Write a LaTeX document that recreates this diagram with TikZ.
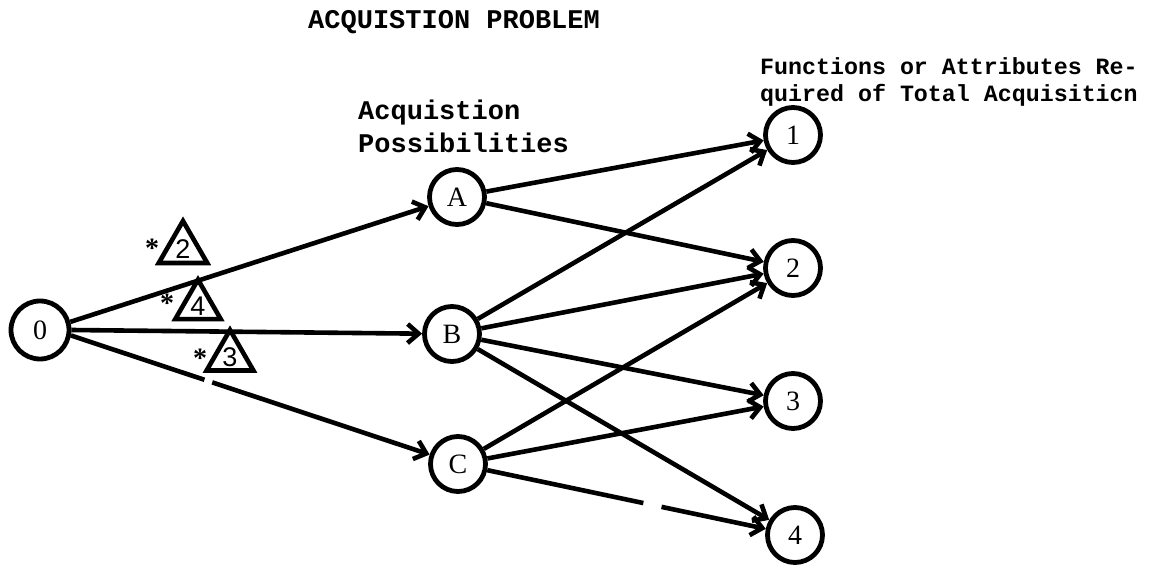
\documentclass[tikz,border=0pt]{standalone}
\usepackage{fontspec}
\setmainfont{Liberation Serif}
\newfontfamily\tw{Liberation Mono}
\newfontfamily\sansf{Liberation Sans}
\usetikzlibrary{arrows.meta,shapes.geometric,calc}
\begin{document}
\begin{tikzpicture}[x=1pt,y=-1pt,
  vert/.style={circle,draw,line width=4.8pt,minimum size=55pt,inner sep=0pt,font=\fontsize{28}{28}\selectfont},
  plain/.style={line width=4.6pt},
  arc/.style={line width=4.6pt,-{Straight Barb[length=11pt,width=19pt]}},
  tri/.style={regular polygon,regular polygon sides=3,draw,line width=4.6pt,inner sep=0pt,font=\sansf\fontsize{27}{27}\selectfont},
  star/.style={font=\bfseries\fontsize{28}{28}\selectfont,inner sep=0pt},
  bigtxt/.style={anchor=base west,inner sep=0pt,font=\tw\bfseries\fontsize{27}{30}\selectfont},
  smalltxt/.style={anchor=base west,inner sep=0pt,font=\tw\bfseries\fontsize{23.3}{26}\selectfont}
]
\useasboundingbox (0,0) rectangle (1151,569);
% titles
\node[bigtxt] (title) at (308,29) {ACQUISTION PROBLEM};
\node[bigtxt] (acq1) at (358,120) {Acquistion};
\node[bigtxt] (acq2) at (358,153) {Possibilities};
\node[smalltxt] (fun1) at (760,75) {Functions or Attributes Re-};
\node[smalltxt] (fun2) at (760,102) {quired of Total Acquisiticn};
% vertices
\node[vert,minimum size=58pt] (O) at (40,330) {0};
\node[vert] (A) at (457,197) {A};
\node[vert] (B) at (452,334) {B};
\node[vert] (C) at (458,464) {C};
\node[vert] (n1) at (793,135) {1};
\node[vert] (n2) at (793,268) {2};
\node[vert] (n3) at (793,401) {3};
\node[vert] (n4) at (795,535) {4};
% edges from 0
\draw[arc] (O.15) -- (A);
\draw[arc] (O.east) -- (B);
\draw[plain] (O.-10) -- ($(O.-10)!0.345!(C)$);
\draw[arc] ($(O.-10)!0.365!(C)$) -- (C);
% edges from A
\draw[arc] (A) -- (n1);
\draw[arc] (A) -- (n2);
% edges from B
\draw[arc] (B) -- (n1);
\draw[arc] (B) -- (n2);
\draw[arc] (B) -- (n3);
\draw[arc] (B) -- (n4);
% edges from C
\draw[arc] (C) -- (n2);
\draw[arc] (C) -- (n3);
\draw[plain] (C) -- ($(C)!0.55!(n4)$);
\draw[arc] ($(C)!0.604!(n4)$) -- (n4);
% triangle annotations
\node[tri,minimum size=56pt] (t2) at (183,249) {2};
\node[tri,minimum size=46pt] (t4) at (198,306) {4};
\node[tri,minimum size=43pt] (t3) at (230,357) {3};
\node[star] (s2) at (152,248) {*};
\node[star] (s4) at (167,303) {*};
\node[star] (s3) at (200,358) {*};
\end{tikzpicture}
\end{document}
